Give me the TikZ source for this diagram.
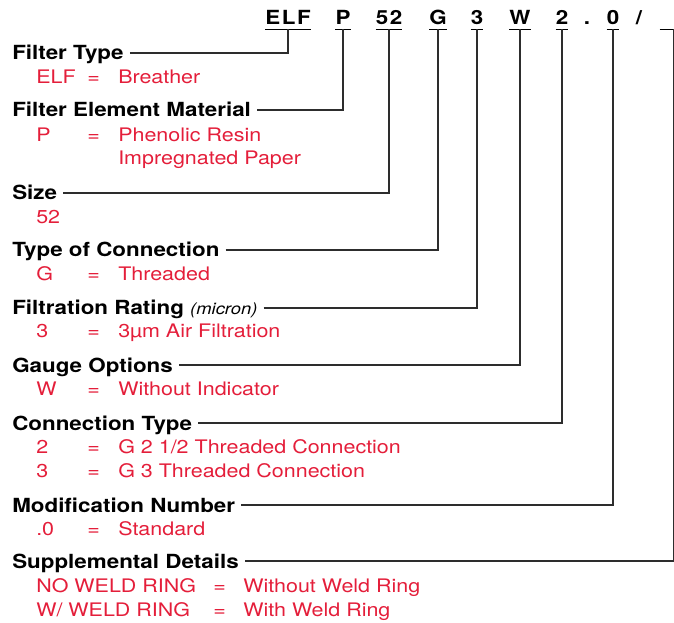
\documentclass[tikz,border=0pt]{standalone}
\usepackage{fontspec}
\setmainfont{TeX Gyre Heros}[FakeStretch=1.15]
\usetikzlibrary{calc}

\definecolor{optred}{RGB}{228,30,58}
\definecolor{leadgray}{RGB}{45,45,45}
\newcommand\basesize{\fontsize{14}{17}\selectfont}
\newcommand\headsize{\fontsize{14.6}{17}\selectfont}

\begin{document}
\begin{tikzpicture}[x=0.75pt, y=-0.75pt,
    head/.style={anchor=base west, inner sep=0pt, font=\headsize\bfseries},
    opt/.style={anchor=base west, inner sep=0pt, text=optred, font=\basesize},
    codebox/.style={anchor=base, inner xsep=0pt, inner ysep=3pt, text depth=0pt,
                    font=\headsize\bfseries\addfontfeature{LetterSpace=8}},
    lead/.style={draw=leadgray, line width=1pt},
    uline/.style={draw=black, line width=1.1pt}]

    % --- Rahmen (Bildgroesse) ---
    \useasboundingbox (0,0) rectangle (674,623);

    % --- Bestellschluessel oben ---
    \def\cy{25}
    \node[codebox] (cELF) at (288,\cy) {ELF};
    \node[codebox] (cP)   at (343,\cy) {P};
    \node[codebox] (cSz)  at (389,\cy) {52};
    \node[codebox] (cG)   at (438,\cy) {G};
    \node[codebox] (cR)   at (477,\cy) {3};
    \node[codebox] (cW)   at (520,\cy) {W};
    \node[codebox] (cCT)  at (562,\cy) {2};
    \node[codebox] (cDot) at (587,\cy) {.};
    \node[codebox] (cMN)  at (613,\cy) {0};
    \node[codebox] (cSl)  at (639,\cy) {/};
    \node[codebox, minimum width=9.75pt] (cSD) at (666.5,\cy) {};

    % Unterstriche
    \foreach \c in {cELF,cP,cSz,cG,cR,cW,cCT,cMN,cSD}
        \draw[uline] (\c.south west) -- (\c.south east);

    % --- Ueberschriften ---
    \node[head] (hFT)  at (12,60)  {Filter Type};
    \node[head] (hFEM) at (12,117) {Filter Element Material};
    \node[head] (hSz)  at (12,200) {Size};
    \node[head] (hToC) at (12,257) {Type of Connection};
    \node[head] (hFR)  at (12,315) {Filtration Rating {\mdseries\itshape\fontsize{12}{14}\selectfont (micron)}};
    \node[head] (hGO)  at (12,372) {Gauge Options};
    \node[head] (hCT)  at (12,430) {Connection Type};
    \node[head] (hMN)  at (12,512) {Modification Number};
    \node[head] (hSD)  at (12,568) {Supplemental Details};

    % --- Fuehrungslinien: Ueberschrift -> Schluessel ---
    \draw[lead] ($(hFT.base east)+(6,-7)$)  -| (cELF.south);
    \draw[lead] ($(hFEM.base east)+(6,-7)$) -| (cP.south);
    \draw[lead] ($(hSz.base east)+(6,-7)$)  -| (cSz.south);
    \draw[lead] ($(hToC.base east)+(6,-7)$) -| (cG.south);
    \draw[lead] ($(hFR.base east)+(6,-7)$)  -| (cR.south);
    \draw[lead] ($(hGO.base east)+(6,-7)$)  -| (cW.south);
    \draw[lead] ($(hCT.base east)+(6,-7)$)  -| (cCT.south);
    \draw[lead] ($(hMN.base east)+(6,-7)$)  -| (cMN.south);
    \draw[lead] ($(hSD.base east)+(6,-7)$)  -| (cSD.south east);

    % --- Optionen (rot) ---
    \def\ka{36}   % Spalte Kuerzel
    \def\kb{87}   % Spalte =
    \def\kc{118}  % Spalte Bedeutung

    \node[opt] (oELF)  at (\ka,84)  {ELF};
    \node[opt] (eELF)  at (\kb,84)  {=};
    \node[opt] (vELF)  at (\kc,84)  {Breather};

    \node[opt] (oP)    at (\ka,141.5) {P};
    \node[opt] (eP)    at (\kb,141.5) {=};
    \node[opt] (vP)    at (\kc,141.5) {Phenolic Resin};
    \node[opt] (vP2)   at (\kc,165)   {Impregnated Paper};

    \node[opt] (oSz)   at (\ka,224) {52};

    \node[opt] (oG)    at (\ka,281) {G};
    \node[opt] (eG)    at (\kb,281) {=};
    \node[opt] (vG)    at (\kc,281) {Threaded};

    \node[opt] (oR)    at (\ka,338) {3};
    \node[opt] (eR)    at (\kb,338) {=};
    \node[opt] (vR)    at (\kc,338) {3µm Air Filtration};

    \node[opt] (oW)    at (\ka,395) {W};
    \node[opt] (eW)    at (\kb,395) {=};
    \node[opt] (vW)    at (\kc,395) {Without Indicator};

    \node[opt] (oCT2)  at (\ka,453) {2};
    \node[opt] (eCT2)  at (\kb,453) {=};
    \node[opt] (vCT2)  at (\kc,453) {G 2 1/2 Threaded Connection};
    \node[opt] (oCT3)  at (\ka,477) {3};
    \node[opt] (eCT3)  at (\kb,477) {=};
    \node[opt] (vCT3)  at (\kc,477) {G 3 Threaded Connection};

    \node[opt] (oMN)   at (\ka,535) {.0};
    \node[opt] (eMN)   at (\kb,535) {=};
    \node[opt] (vMN)   at (\kc,535) {Standard};

    % Zusatzangaben: breitere Spalten
    \node[opt] (oNWR)  at (\ka,592.5) {NO WELD RING};
    \node[opt] (eNWR)  at (213,592.5) {=};
    \node[opt] (vNWR)  at (243,592.5) {Without Weld Ring};
    \node[opt] (oWR)   at (\ka,616)   {W/ WELD RING};
    \node[opt] (eWR)   at (213,616)   {=};
    \node[opt] (vWR)   at (243,616)   {With Weld Ring};

\end{tikzpicture}
\end{document}
